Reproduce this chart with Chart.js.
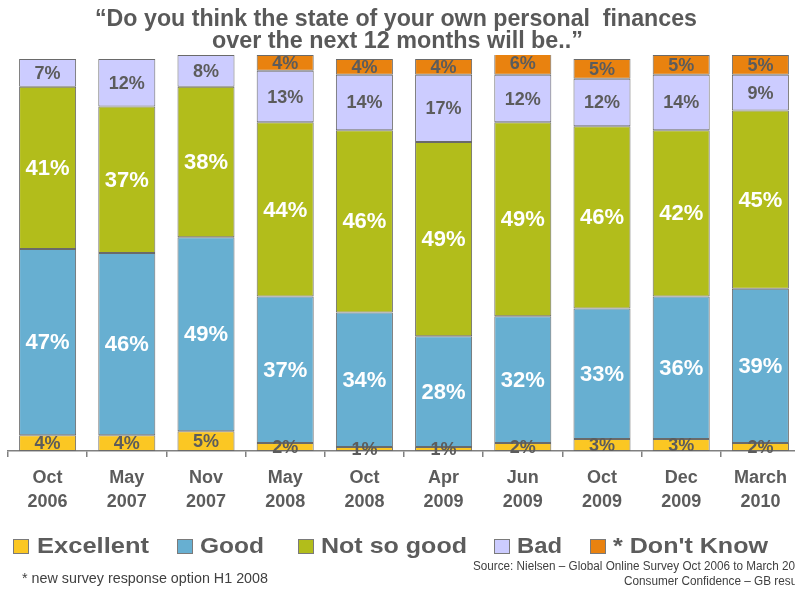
<!DOCTYPE html>
<html>
<head>
<meta charset="utf-8">
<script src="https://cdn.jsdelivr.net/npm/chart.js@4.4.0/dist/chart.umd.min.js"></script>
<style>
    html, body { margin: 0; padding: 0; background: #fff; overflow: hidden; }
    #wrap { position: relative; width: 795px; height: 592px; overflow: hidden; }
</style>
</head>
<body>
<div id="wrap"><canvas id="myChart" width="800" height="592"></canvas></div>
<script>
// survey waves
var wLabels = [['Oct', '2006'], ['May', '2007'], ['Nov', '2007'], ['May', '2008'], ['Oct', '2008'],
               ['Apr', '2009'], ['Jun', '2009'], ['Oct', '2009'], ['Dec', '2009'], ['March', '2010']]

// answers in %
var wExcellent = [4, 4, 5, 2, 1, 1, 2, 3, 3, 2]
var wGood      = [47, 46, 49, 37, 34, 28, 32, 33, 36, 39]
var wNotSoGood = [41, 37, 38, 44, 46, 49, 49, 46, 42, 45]
var wBad       = [7, 12, 8, 13, 14, 17, 12, 12, 14, 9]
var wDontKnow  = [null, null, null, 4, 4, 4, 6, 5, 5, 5]

var wTitle = ['\u201cDo you think the state of your own personal  finances',
              'over the next 12 months will be..\u201d']
var wFootnote = '* new survey response option H1 2008'
var wSource = ['Source: Nielsen \u2013 Global Online Survey Oct 2006 to March 2010',
               'Consumer Confidence \u2013 GB results']

var FONT = "'Liberation Sans', Arial, sans-serif"
var GREY = '#5c5c5c'

// draw text squeezed/stretched to a given width
function fitText(ctx, text, x, y, w) {
    var m = ctx.measureText(text).width
    ctx.save()
    ctx.translate(x, y)
    ctx.scale(w / m, 1)
    ctx.textAlign = 'left'
    ctx.fillText(text, 0, 0)
    ctx.restore()
}

var barLabels = {
    id: 'barLabels',
    afterDatasetsDraw: function (chart) {
        var ctx = chart.ctx
        ctx.save()
        ctx.textAlign = 'center'
        ctx.textBaseline = 'middle'
        chart.data.datasets.forEach(function (ds, i) {
            var meta = chart.getDatasetMeta(i)
            meta.data.forEach(function (bar, j) {
                var v = ds.data[j]
                if (v == null) return
                var p = bar.getProps(['x', 'y', 'base'], true)
                ctx.font = 'bold ' + ds.labelSize + 'px ' + FONT
                ctx.fillStyle = ds.labelColor
                ctx.fillText(v + '%', p.x, (p.y + p.base) / 2 + 1)
            })
        })
        ctx.restore()
    }
}

var decor = {
    id: 'decor',
    afterDraw: function (chart) {
        var ctx = chart.ctx
        ctx.save()
        ctx.textBaseline = 'middle'

        // title
        ctx.fillStyle = '#595959'
        ctx.font = 'bold 24px ' + FONT
        fitText(ctx, wTitle[0], 95, 19, 602)
        fitText(ctx, wTitle[1], 212, 41, 371)

        // legend
        var boxX = [13, 177, 298, 494, 590]
        var txtX = [37, 200, 321, 517, 613]
        var txtW = [112, 64, 146, 45, 155]
        ctx.font = 'bold 22px ' + FONT
        chart.data.datasets.forEach(function (ds, i) {
            ctx.fillStyle = ds.backgroundColor
            ctx.fillRect(boxX[i], 539, 16, 15)
            ctx.strokeStyle = '#7a7a7a'
            ctx.lineWidth = 1
            ctx.strokeRect(boxX[i] + 0.5, 539.5, 15, 14)
            ctx.fillStyle = GREY
            fitText(ctx, ds.label, txtX[i], 547, txtW[i])
        })

        // notes
        ctx.fillStyle = '#404040'
        ctx.font = '14px ' + FONT
        fitText(ctx, wFootnote, 22, 579, 246)
        ctx.font = '12px ' + FONT
        fitText(ctx, wSource[0], 473, 567, 335)
        fitText(ctx, wSource[1], 624, 582, 185)
        ctx.restore()
    }
}

function mkSet(label, data, color, labelColor, labelSize) {
    return {
        label: label,
        data: data,
        backgroundColor: color,
        borderColor: '#6a6a6a',
        borderWidth: 1,
        borderSkipped: false,
        labelColor: labelColor,
        labelSize: labelSize
    }
}

var ctx = document.getElementById('myChart').getContext('2d')
var myChart = new Chart(ctx, {
    type: 'bar',
    data: {
        labels: wLabels,
        datasets: [
            mkSet('Excellent', wExcellent, '#FBC723', GREY, 18),
            mkSet('Good', wGood, '#67AFD1', '#ffffff', 22),
            mkSet('Not so good', wNotSoGood, '#B2BD1B', '#ffffff', 22),
            mkSet('Bad', wBad, '#CCCCFF', GREY, 18),
            mkSet('* Don\'t Know', wDontKnow, '#E9820F', GREY, 18)
        ]
    },
    options: {
        responsive: false,
        animation: false,
        layout: { padding: { top: 55, left: 8, right: 0, bottom: 0 } },
        datasets: { bar: { categoryPercentage: 1, barPercentage: 0.72 } },
        plugins: {
            legend: { display: false },
            title: { display: false },
            tooltip: { enabled: false }
        },
        scales: {
            x: {
                stacked: true,
                afterFit: function (s) { s.height = 141 },
                grid: { drawOnChartArea: false, drawTicks: true, tickLength: 6, color: '#808080', lineWidth: 1.5 },
                border: { display: true, color: '#808080', width: 1.5 },
                ticks: {
                    color: GREY,
                    padding: 10,
                    font: { family: FONT, size: 18, weight: 'bold', lineHeight: 1.28 }
                }
            },
            y: {
                stacked: true,
                display: false,
                min: 0,
                max: 100
            }
        }
    },
    plugins: [barLabels, decor]
})
</script>
</body>
</html>
